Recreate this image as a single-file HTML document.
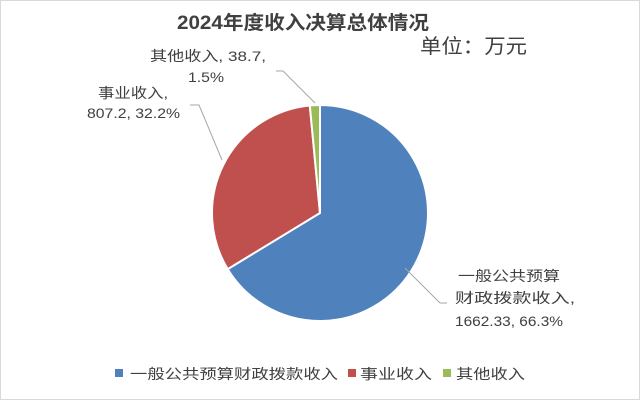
<!DOCTYPE html>
<html><head><meta charset="utf-8"><style>
body{margin:0;background:#fff}
svg text{font-family:"Liberation Sans","Noto Sans CJK SC",sans-serif;fill:#404040}
</style></head><body>
<svg width="640" height="401" viewBox="0 0 640 401" xmlns="http://www.w3.org/2000/svg">
<rect x="0.5" y="0.5" width="639" height="399" fill="#fff" stroke="#d9d9d9"/>
<text x="177" y="29" font-size="19" font-weight="bold" textLength="252" lengthAdjust="spacingAndGlyphs" fill="#404040">2024年度收入决算总体情况</text>
<text x="420" y="53" font-size="20" textLength="107" lengthAdjust="spacingAndGlyphs" fill="#222">单位：万元</text>
<g stroke="#fff" stroke-width="2">
<path d="M320,213 L320,105 A108,108 0 1 1 227.7,269.1 Z" fill="#4f81bd"/>
<path d="M320,213 L227.7,269.1 A108,108 0 0 1 309.8,105.5 Z" fill="#c0504d"/>
<path d="M320,213 L309.8,105.5 A108,108 0 0 1 320,105 Z" fill="#9bbb59"/>
</g>
<g stroke="#a6a6a6" fill="none" stroke-width="1">
<polyline points="315,103 283,71 276,71"/>
<polyline points="222,160 199,105 190,105"/>
<polyline points="405,268 440,303 447,303"/>
</g>
<text x="150" y="61" font-size="14" textLength="116" lengthAdjust="spacingAndGlyphs">其他收入, 38.7,</text>
<text x="188" y="82" font-size="14" textLength="36" lengthAdjust="spacingAndGlyphs">1.5%</text>
<text x="98" y="98" font-size="14" textLength="70" lengthAdjust="spacingAndGlyphs">事业收入,</text>
<text x="87" y="118" font-size="14" textLength="93" lengthAdjust="spacingAndGlyphs">807.2, 32.2%</text>
<text x="458" y="281" font-size="14" textLength="102" lengthAdjust="spacingAndGlyphs">一般公共预算</text>
<text x="455" y="303" font-size="14" textLength="120" lengthAdjust="spacingAndGlyphs">财政拨款收入,</text>
<text x="455" y="326" font-size="14" textLength="108" lengthAdjust="spacingAndGlyphs">1662.33, 66.3%</text>
<rect x="115" y="369" width="8" height="8" fill="#4f81bd"/>
<text x="130" y="379" font-size="14" textLength="208" lengthAdjust="spacingAndGlyphs">一般公共预算财政拨款收入</text>
<rect x="348" y="369" width="8" height="8" fill="#c0504d"/>
<text x="360" y="379" font-size="14" textLength="72" lengthAdjust="spacingAndGlyphs">事业收入</text>
<rect x="443" y="369" width="8" height="8" fill="#9bbb59"/>
<text x="456" y="379" font-size="14" textLength="69" lengthAdjust="spacingAndGlyphs">其他收入</text>
</svg>
</body></html>
